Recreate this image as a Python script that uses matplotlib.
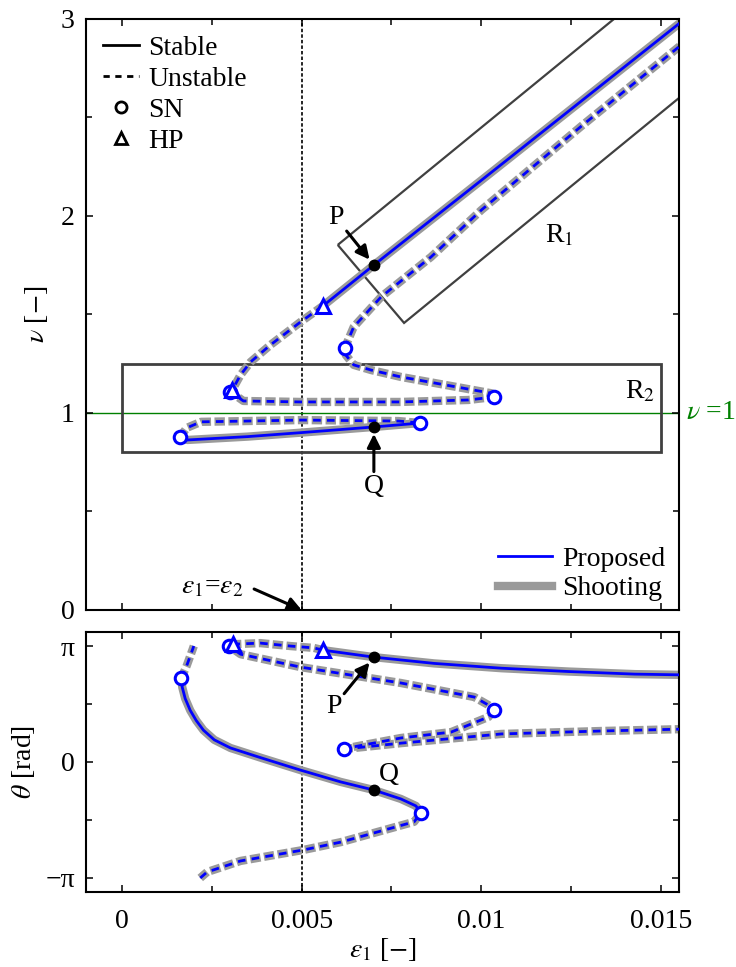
import numpy as np
import matplotlib
matplotlib.use("Agg")
import matplotlib.pyplot as plt
from matplotlib.lines import Line2D
from matplotlib.patches import Polygon, Rectangle
from matplotlib.ticker import MultipleLocator, FixedLocator

plt.rcParams['font.family'] = ['Liberation Serif', 'DejaVu Serif']
plt.rcParams['mathtext.fontset'] = 'stix'
plt.rcParams['font.size'] = 20
plt.rcParams['lines.scale_dashes'] = False

# ---- branches, (eps1, nu) in the top panel and (eps1, theta) in the bottom one ----
# stable branch through P (from HP1 to the right edge)
stab1_eps = [0.00559, 0.00701, 0.0100, 0.01556]
stab1_nu = [1.543, 1.751, 2.181, 2.985]
stab1_eps_b = [0.00559, 0.00701, 0.00869, 0.01056, 0.01243, 0.01427, 0.01556]
stab1_th = [3.03, 2.84, 2.67, 2.54, 2.45, 2.38, 2.36]

# unstable HP1 -> HP2
hp_eps = [0.00559, 0.00497, 0.00413, 0.00358, 0.0033, 0.00307]
hp_nu = [1.543, 1.462, 1.345, 1.259, 1.193, 1.117]
hp_eps_b = [0.00559, 0.00534, 0.00469, 0.00385, 0.00310]
hp_th = [3.03, 3.09, 3.14, 3.22, 3.19]

# unstable SN(0.003) -> SN(0.0103)
u1_eps = [0.00307, 0.00302, 0.00338, 0.00497, 0.00776, 0.00964, 0.01034]
u1_nu = [1.117, 1.107, 1.061, 1.056, 1.056, 1.066, 1.081]
u1_eps_b = [0.00310, 0.00298, 0.0033, 0.00497, 0.00776, 0.0098, 0.0102, 0.01034]
u1_th = [3.19, 3.14, 2.92, 2.57, 2.14, 1.76, 1.54, 1.41]

# unstable SN(0.0103) -> SN(0.0062)
u2_eps = [0.01034, 0.01028, 0.00916, 0.00776, 0.00693, 0.00645, 0.00623, 0.0062]
u2_nu = [1.081, 1.10, 1.137, 1.183, 1.218, 1.244, 1.294, 1.33]
u2_eps_b = [0.01034, 0.0102, 0.00916, 0.00776, 0.00645, 0.00617]
u2_th = [1.41, 1.22, 0.81, 0.65, 0.41, 0.35]

# unstable SN(0.0062) -> right edge
u3_eps = [0.0062, 0.00645, 0.00721, 0.0086, 0.0100, 0.01279, 0.01556]
u3_nu = [1.33, 1.437, 1.589, 1.792, 2.03, 2.457, 2.868]
u3_eps_b = [0.00617, 0.00776, 0.01056, 0.01335, 0.01556]
u3_th = [0.35, 0.51, 0.76, 0.84, 0.89]

# stable SN(0.0016) -> Q -> SN(0.0083)
stab2_eps = [0.00162, 0.00182, 0.0035, 0.00497, 0.00701, 0.0083]
stab2_nu = [0.878, 0.863, 0.88, 0.90, 0.929, 0.949]
stab2_eps_b = [0.00165, 0.00168, 0.00176, 0.00190, 0.00207, 0.00227, 0.00257,
               0.00302, 0.00385, 0.00497, 0.00609, 0.00701, 0.00776, 0.00818, 0.00832]
stab2_th = [2.27, 2.02, 1.72, 1.40, 1.12, 0.86, 0.60, 0.38, 0.12, -0.22, -0.54,
            -0.76, -1.0, -1.19, -1.38]

# unstable SN(0.0016) -> SN(0.0083), wraps at +-pi in theta
u4_eps = [0.00162, 0.0018, 0.0022, 0.0050, 0.0077, 0.0083]
u4_nu = [0.878, 0.924, 0.955, 0.964, 0.959, 0.949]
u4a_eps_b = [0.00165, 0.0018, 0.00196, 0.0020]
u4a_th = [2.27, 2.6, 3.03, np.pi]
u4b_eps_b = [0.00218, 0.00237, 0.0033, 0.00506, 0.00609, 0.00813, 0.00832]
u4b_th = [-np.pi, -2.98, -2.68, -2.38, -2.17, -1.62, -1.38]

# special points
sn_eps = [0.00302, 0.01034, 0.0062, 0.00162, 0.0083]
sn_nu = [1.107, 1.081, 1.33, 0.878, 0.949]
sn_eps_b = [0.00298, 0.01034, 0.00617, 0.00165, 0.00832]
sn_th = [3.14, 1.41, 0.35, 2.27, -1.38]
hpt_eps = [0.00559, 0.00307]
hpt_nu = [1.543, 1.117]
hpt_eps_b = [0.00559, 0.00310]
hpt_th = [3.03, 3.19]
pq_eps = [0.00701, 0.00701]
pq_nu = [1.751, 0.929]
pq_th = [2.84, -0.76]

# regions
r1_corners = [(0.006005, 1.853), (0.00785, 1.457), (0.02315, 3.741), (0.02131, 4.137)]
r2_box = (0.0, 0.8, 0.015, 1.25)

stables_top = [(stab1_eps, stab1_nu), (stab2_eps, stab2_nu)]
unstables_top = [(hp_eps, hp_nu), (u1_eps, u1_nu), (u2_eps, u2_nu),
                 (u3_eps, u3_nu), (u4_eps, u4_nu)]
stables_bot = [(stab1_eps_b, stab1_th), (stab2_eps_b, stab2_th)]
unstables_bot = [(hp_eps_b, hp_th), (u1_eps_b, u1_th), (u2_eps_b, u2_th),
                 (u3_eps_b, u3_th), (u4a_eps_b, u4a_th), (u4b_eps_b, u4b_th)]

BLUE = '#0000ff'
GRAY = '#9a9a9a'


def draw_branches(ax, stables, unstables):
    for x, y in stables:
        ax.plot(x, y, color=GRAY, lw=6, solid_capstyle='butt', solid_joinstyle='round', zorder=2)
        ax.plot(x, y, color=BLUE, lw=2, solid_joinstyle='round', zorder=3)
    for x, y in unstables:
        ax.plot(x, y, color=GRAY, lw=6, ls=(1, (7.5, 2.5)), dash_capstyle='butt', zorder=2)
        ax.plot(x, y, color=BLUE, lw=2, ls=(0, (5.5, 4.5)), dash_capstyle='butt', zorder=3)


def draw_points(ax, snx, sny, hpx, hpy, px, py):
    ax.plot(snx, sny, 'o', ms=9, mfc='white', mec=BLUE, mew=2.2, zorder=5, ls='none')
    ax.plot(hpx, hpy, '^', ms=10, mfc='white', mec=BLUE, mew=2.2, zorder=5, ls='none')
    ax.plot(px, py, 'o', ms=7.5, color='k', zorder=6, ls='none')


def style_axis(ax):
    ax.tick_params(which='both', direction='in', top=True, right=True, width=1.1)
    ax.tick_params(which='major', length=5)
    ax.tick_params(which='minor', length=4.5)
    ax.tick_params(axis='y', which='major', pad=8)
    ax.tick_params(axis='x', which='major', pad=12)
    for s in ax.spines.values():
        s.set_linewidth(1.5)


fig = plt.figure(figsize=(7.36, 9.67), dpi=100)
ax1 = fig.add_axes([0.1168, 0.3692, 0.8058, 0.6112])
ax2 = fig.add_axes([0.1168, 0.0776, 0.8058, 0.2688])

# ---------------- top panel ----------------
ax1.axvline(0.005, color='k', lw=1.2, ls=(0, (2.5, 1.5)), zorder=1)
ax1.axhline(1.0, color='#008000', lw=1.0, zorder=1)
ax1.add_patch(Polygon(r1_corners, closed=True, fill=False, ec='#404040', lw=1.6, zorder=1))
ax1.add_patch(Rectangle((r2_box[0], r2_box[1]), r2_box[2] - r2_box[0], r2_box[3] - r2_box[1],
                        fill=False, ec='#404040', lw=2.0, zorder=1))
draw_branches(ax1, stables_top, unstables_top)
draw_points(ax1, sn_eps, sn_nu, hpt_eps, hpt_nu, pq_eps, pq_nu)

ax1.set_xlim(-0.001, 0.0155)
ax1.set_ylim(0, 3)
ax1.xaxis.set_major_locator(MultipleLocator(0.005))
ax1.xaxis.set_minor_locator(MultipleLocator(0.0025))
ax1.yaxis.set_major_locator(MultipleLocator(1))
ax1.yaxis.set_minor_locator(MultipleLocator(0.5))
ax1.set_xticklabels([])
ax1.set_yticks([0, 1, 2, 3], ['0', '1', '2', '3'])
ax1.set_ylabel(r'$\nu$ [$-$]', labelpad=8)
style_axis(ax1)

ax1.text(1.012, 1.0, r'$\nu$ =1', color='#008000', transform=ax1.get_yaxis_transform(),
         ha='left', va='center', clip_on=False)
ax1.text(0.01218, 1.9, r'R$_1$', ha='center', va='center')
ax1.text(0.01443, 1.11, r'R$_2$', ha='center', va='center')

arrow = dict(arrowstyle='-|>', color='k', lw=2.2, mutation_scale=20, shrinkA=0, shrinkB=5)
ax1.annotate('P', xy=(0.00701, 1.751), xytext=(0.00596, 1.99), ha='center', va='center',
             arrowprops=arrow)
ax1.annotate('Q', xy=(0.00701, 0.929), xytext=(0.00701, 0.625), ha='center', va='center',
             arrowprops=arrow)
ax1.annotate(r'$\varepsilon_1$=$\varepsilon_2$', xy=(0.005, 0.0), xytext=(0.00252, 0.117),
             ha='center', va='center',
             arrowprops=dict(arrowstyle='-|>', color='k', lw=2.2, mutation_scale=20,
                             shrinkA=6, shrinkB=0, relpos=(1.0, 0.6)))

leg1_handles = [Line2D([], [], color='k', lw=2),
                Line2D([], [], color='k', lw=2, ls=(0, (4.5, 4))),
                Line2D([], [], color='k', marker='o', ls='none', ms=8, mfc='white', mew=2),
                Line2D([], [], color='k', marker='^', ls='none', ms=9, mfc='white', mew=2)]
leg1 = ax1.legend(leg1_handles, ['Stable', 'Unstable', 'SN', 'HP'], loc='upper left',
                  frameon=False, handlelength=1.3, handletextpad=0.35, labelspacing=0.2,
                  borderaxespad=0.2, borderpad=0.4)
ax1.add_artist(leg1)
leg2_handles = [Line2D([], [], color=BLUE, lw=2),
                Line2D([], [], color=GRAY, lw=6)]
ax1.legend(leg2_handles, ['Proposed', 'Shooting'], loc='lower right', frameon=False,
           handlelength=1.95, handletextpad=0.35, labelspacing=0.15,
           borderaxespad=0.1, borderpad=0.4, bbox_to_anchor=(1.0, -0.009))

# ---------------- bottom panel ----------------
ax2.axvline(0.005, color='k', lw=1.2, ls=(0, (2.5, 1.5)), zorder=1)
draw_branches(ax2, stables_bot, unstables_bot)
draw_points(ax2, sn_eps_b, sn_th, hpt_eps_b, hpt_th, pq_eps, pq_th)

ax2.set_xlim(-0.001, 0.0155)
ax2.set_ylim(-3.52, 3.52)
ax2.xaxis.set_major_locator(MultipleLocator(0.005))
ax2.xaxis.set_minor_locator(MultipleLocator(0.0025))
ax2.set_xticks([0, 0.005, 0.01, 0.015], ['0', '0.005', '0.01', '0.015'])
ax2.set_yticks([-np.pi, 0, np.pi], ['\u2212\u03c0', '0', '\u03c0'])
ax2.yaxis.set_minor_locator(FixedLocator([-np.pi / 2, np.pi / 2]))
ax2.set_ylabel(r'$\theta$ [rad]', labelpad=6)
ax2.set_xlabel(r'$\varepsilon_1$ [$-$]', labelpad=2)
style_axis(ax2)

ax2.annotate('P', xy=(0.00701, 2.84), xytext=(0.00589, 1.5), ha='center', va='center',
             arrowprops=arrow)
ax2.text(0.00742, -0.35, 'Q', ha='center', va='center')

fig.savefig('out.png', dpi=100)
